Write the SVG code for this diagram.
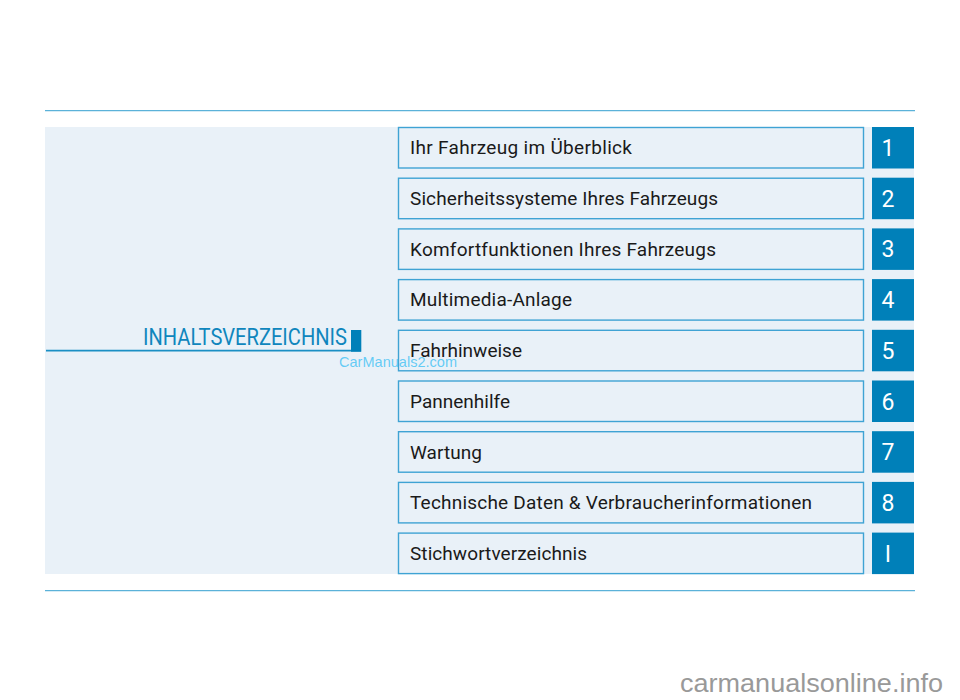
<svg xmlns="http://www.w3.org/2000/svg" width="960" height="700" viewBox="0 0 960 700">
<style>
.rule{stroke:#5bb2d9;stroke-width:1.2;fill:none}
.box{fill:#e9f1f8;stroke:#3fa3d4;stroke-width:1.4}
.num{fill:#0080b9}
.lbl{font-family:Roboto,"Liberation Sans",sans-serif;font-size:19px;fill:#1a1a1a}
.n{font-family:Roboto,"Liberation Sans",sans-serif;font-size:23px;font-weight:400;fill:#fff;text-anchor:middle}
</style>
<rect width="960" height="700" fill="#fff"/>
<rect x="45" y="127" width="869" height="447" fill="#e9f1f8"/>
<g id="connectors">
<path class="rule" d="M45 110.600H915M45 590.600H915"/>
<path d="M46 350.700H361" stroke="#1a8fc4" stroke-width="1.800" fill="none"/>
</g>
<g id="title">
<rect x="351" y="330" width="10.300" height="21.700" fill="#0080b9"/>
<text x="143" y="345" font-family="Roboto,Liberation Sans,sans-serif" font-size="23" fill="#0f86bd" textLength="204" lengthAdjust="spacingAndGlyphs">INHALTSVERZEICHNIS</text>
</g>
<g id="n1"><rect class="box" x="398.500" y="127.500" width="465" height="40.500"/><text class="lbl" x="410" y="154.300" textLength="222">Ihr Fahrzeug im Überblick</text><rect class="num" x="872" y="127" width="42" height="41.500"/><text class="n" x="888" y="156">1</text></g>
<g id="n2"><rect class="box" x="398.500" y="178.200" width="465" height="40.500"/><text class="lbl" x="410" y="205" textLength="308">Sicherheitssysteme Ihres Fahrzeugs</text><rect class="num" x="872" y="177.700" width="42" height="41.500"/><text class="n" x="888" y="206.700">2</text></g>
<g id="n3"><rect class="box" x="398.500" y="228.900" width="465" height="40.500"/><text class="lbl" x="410" y="255.700" textLength="306">Komfortfunktionen Ihres Fahrzeugs</text><rect class="num" x="872" y="228.400" width="42" height="41.500"/><text class="n" x="888" y="257.400">3</text></g>
<g id="n4"><rect class="box" x="398.500" y="279.600" width="465" height="40.500"/><text class="lbl" x="410" y="306.400" textLength="162">Multimedia-Anlage</text><rect class="num" x="872" y="279.100" width="42" height="41.500"/><text class="n" x="888" y="308.100">4</text></g>
<g id="n5"><rect class="box" x="398.500" y="330.300" width="465" height="40.500"/><text class="lbl" x="410" y="357.100" textLength="112">Fahrhinweise</text><rect class="num" x="872" y="329.800" width="42" height="41.500"/><text class="n" x="888" y="358.800">5</text></g>
<g id="n6"><rect class="box" x="398.500" y="381" width="465" height="40.500"/><text class="lbl" x="410" y="407.800" textLength="100">Pannenhilfe</text><rect class="num" x="872" y="380.500" width="42" height="41.500"/><text class="n" x="888" y="409.500">6</text></g>
<g id="n7"><rect class="box" x="398.500" y="431.700" width="465" height="40.500"/><text class="lbl" x="410" y="458.500" textLength="72">Wartung</text><rect class="num" x="872" y="431.200" width="42" height="41.500"/><text class="n" x="888" y="460.200">7</text></g>
<g id="n8"><rect class="box" x="398.500" y="482.400" width="465" height="40.500"/><text class="lbl" x="410" y="509.200" textLength="402">Technische Daten &amp; Verbraucherinformationen</text><rect class="num" x="872" y="481.900" width="42" height="41.500"/><text class="n" x="888" y="510.900">8</text></g>
<g id="nI"><rect class="box" x="398.500" y="533.100" width="465" height="40.500"/><text class="lbl" x="410" y="559.900" textLength="177">Stichwortverzeichnis</text><rect class="num" x="872" y="532.600" width="42" height="41.500"/><text class="n" x="888" y="561.600">I</text></g>
<g id="marks">
<text x="339" y="367" font-family="Liberation Sans,sans-serif" font-size="14.500" fill="#4cc4f5" fill-opacity=".85" textLength="118">CarManuals2.com</text>
<text x="680" y="691.500" font-family="Liberation Sans,sans-serif" font-size="25" fill="#999" textLength="263" lengthAdjust="spacingAndGlyphs">carmanualsonline.info</text>
</g>
</svg>
